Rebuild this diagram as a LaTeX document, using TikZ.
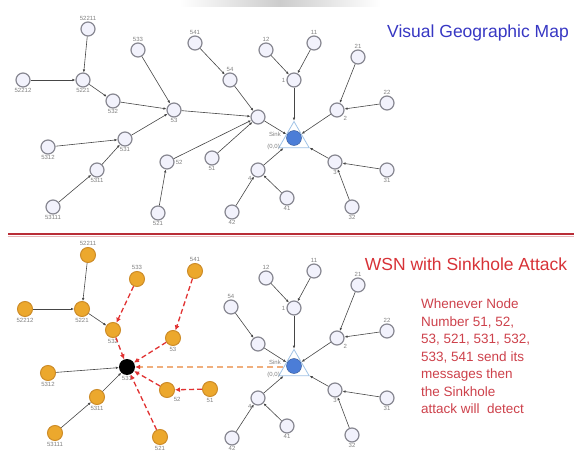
\documentclass[tikz,border=0pt]{standalone}
\usepackage{fontspec}
\setmainfont{Liberation Sans}
\usetikzlibrary{arrows.meta,shapes.geometric}
\definecolor{nodegray}{RGB}{135,135,145}
\definecolor{nodefill}{RGB}{242,242,252}
\definecolor{orfill}{RGB}{236,168,45}
\definecolor{ordraw}{RGB}{205,140,40}
\definecolor{edgegray}{RGB}{70,70,70}
\definecolor{attred}{RGB}{225,50,50}
\definecolor{titleblue}{RGB}{55,55,195}
\definecolor{titlered}{RGB}{215,50,55}
\definecolor{txtred}{RGB}{205,65,75}
\definecolor{divred}{RGB}{185,45,55}
\definecolor{peach}{RGB}{240,175,125}
\definecolor{sinkblue}{RGB}{75,125,215}
\definecolor{trib}{RGB}{160,195,230}
\begin{document}
\begin{tikzpicture}[x=1pt,y=-1pt,
 gnode/.style={circle,draw=nodegray,fill=nodefill,line width=1.2pt,minimum size=14pt,inner sep=0pt},
 onode/.style={circle,draw=ordraw,fill=orfill,line width=1pt,minimum size=15pt,inner sep=0pt},
 hole/.style={circle,fill=black,minimum size=16pt,inner sep=0pt},
 lab/.style={font=\fontsize{6}{6}\selectfont,text=gray,inner sep=1pt},
 conn/.style={draw=edgegray,line width=0.6pt,-{Latex[length=3pt,width=2.6pt]}},
 atk/.style={draw=attred,line width=1.3pt,dash pattern=on 5pt off 3pt,-{Latex[length=5pt,width=5pt]}},
 lure/.style={draw=peach,line width=1.4pt,dash pattern=on 6pt off 4pt,-{Latex[length=5pt,width=5pt,color=attred]}},
 tri/.style={regular polygon,regular polygon sides=3,minimum size=35pt,draw=trib,fill=white,line width=0.8pt,inner sep=0pt},
 core/.style={circle,fill=sinkblue,draw=sinkblue!70!black,line width=0.4pt,minimum size=15pt,inner sep=0pt},
]
\useasboundingbox (0,0) rectangle (574,455);
\shade[left color=white,right color=white,middle color=gray!40] (180,0) rectangle (380,6);

% ---------------- top: visual geographic map
\node[font=\fontsize{17.5}{18}\selectfont,text=titleblue] (t1) at (478,33) {Visual Geographic Map};

\node[gnode,label={[lab]above:52211}] (a52211) at (88,29) {};
\node[gnode,label={[lab]above:533}] (a533) at (138,50) {};
\node[gnode,label={[lab]above:541}] (a541) at (195,43) {};
\node[gnode,label={[lab]below:52212}] (a52212) at (23,80) {};
\node[gnode,label={[lab]below:5221}] (a5221) at (83,80) {};
\node[gnode,label={[lab]below:532}] (a532) at (113,101) {};
\node[gnode,label={[lab]below:53}] (a53) at (174,110) {};
\node[gnode,label={[lab]below:5312}] (a5312) at (48,147) {};
\node[gnode,label={[lab]below:531}] (a531) at (125,139) {};
\node[gnode,label={[lab]below:5311}] (a5311) at (97,170) {};
\node[gnode,label={[lab]below:53111}] (a53111) at (53,207) {};
\node[gnode,label={[lab]right:52}] (a52) at (167,162) {};
\node[gnode,label={[lab]below:521}] (a521) at (158,213) {};
\node[gnode,label={[lab]below:51}] (a51) at (212,158) {};
\node[gnode,label={[lab]above:54}] (a54) at (230,80) {};
\node[gnode] (a5) at (258,117) {};
\node[gnode,label={[lab]above:12}] (a12) at (266,50) {};
\node[gnode,label={[lab]above:11}] (a11) at (314,43) {};
\node[gnode,label={[lab]left:1}] (a1) at (294,80) {};
\node[gnode,label={[lab]above:21}] (a21) at (358,57) {};
\node[gnode,label={[lab]below right:2}] (a2) at (337,110) {};
\node[gnode,label={[lab]above:22}] (a22) at (387,103) {};
\node[gnode,label={[lab]below:31}] (a31) at (387,170) {};
\node[gnode,label={[lab]below:3}] (a3) at (335,162) {};
\node[gnode,label={[lab]below left:4}] (a4) at (258,170) {};
\node[gnode,label={[lab]below:41}] (a41) at (287,198) {};
\node[gnode,label={[lab]below:42}] (a42) at (232,212) {};
\node[gnode,label={[lab]below:32}] (a32) at (352,207) {};
\node[tri] (asink) at (294,139) {};
\node[core] (acore) at (294,138) {};
\node[lab,anchor=east] (asinklab) at (282,134) {Sink};
\node[lab,anchor=east] (asinkxy) at (281,147) {(0,0)};

\draw[conn] (a52211) -- (a5221);
\draw[conn] (a52212) -- (a5221);
\draw[conn] (a5221) -- (a532);
\draw[conn] (a532) -- (a53);
\draw[conn] (a533) -- (a53);
\draw[conn] (a531) -- (a53);
\draw[conn] (a5312) -- (a531);
\draw[conn] (a5311) -- (a531);
\draw[conn] (a53111) -- (a5311);
\draw[conn] (a53) -- (a5);
\draw[conn] (a541) -- (a54);
\draw[conn] (a54) -- (a5);
\draw[conn] (a52) -- (a5);
\draw[conn] (a521) -- (a52);
\draw[conn] (a51) -- (a5);
\draw[conn] (a5) -- (asink);
\draw[conn] (a12) -- (a1);
\draw[conn] (a11) -- (a1);
\draw[conn] (a1) -- (asink);
\draw[conn] (a21) -- (a2);
\draw[conn] (a22) -- (a2);
\draw[conn] (a2) -- (asink);
\draw[conn] (a31) -- (a3);
\draw[conn] (a32) -- (a3);
\draw[conn] (a3) -- (asink);
\draw[conn] (a42) -- (a4);
\draw[conn] (a41) -- (a4);
\draw[conn] (a4) -- (asink);

% ---------------- divider
\draw[divred,line width=2.5pt] (8,234) -- (574,234);
\draw[divred!35,line width=1pt] (8,236.5) -- (574,236.5);

% ---------------- bottom: WSN with sinkhole attack
\node[font=\fontsize{17.5}{18}\selectfont,text=titlered] (t2) at (466,264) {WSN with Sinkhole Attack};
\node[font=\fontsize{13.5}{17.5}\selectfont,text=txtred,align=left,anchor=north west,inner sep=0pt] (note) at (421,299)
 {Whenever Node\\Number 51, 52,\\53, 521, 531, 532,\\533, 541 send its\\messages then\\the Sinkhole\\attack will~ detect};

\node[onode,label={[lab]above:52211}] (b52211) at (88,255) {};
\node[onode,label={[lab]above:533}] (b533) at (137,279) {};
\node[onode,label={[lab]above:541}] (b541) at (195,271) {};
\node[onode,label={[lab]below:52212}] (b52212) at (25,309) {};
\node[onode,label={[lab]below:5221}] (b5221) at (82,309) {};
\node[onode,label={[lab]below:532}] (b532) at (113,330) {};
\node[onode,label={[lab]below:53}] (b53) at (173,338) {};
\node[hole,label={[lab]below:531}] (bhole) at (127,367) {};
\node[onode,label={[lab]below:5312}] (b5312) at (48,373) {};
\node[onode,label={[lab]below:5311}] (b5311) at (97,397) {};
\node[onode,label={[lab]below:53111}] (b53111) at (55,433) {};
\node[onode,label={[lab]below right:52}] (b52) at (167,390) {};
\node[onode,label={[lab]below:521}] (b521) at (160,437) {};
\node[onode,label={[lab]below:51}] (b51) at (210,389) {};
\node[gnode,label={[lab]above:54}] (b54) at (231,307) {};
\node[gnode] (b5) at (258,344) {};
\node[gnode,label={[lab]above:12}] (b12) at (266,278) {};
\node[gnode,label={[lab]above:11}] (b11) at (314,271) {};
\node[gnode,label={[lab]left:1}] (b1) at (294,308) {};
\node[gnode,label={[lab]above:21}] (b21) at (358,285) {};
\node[gnode,label={[lab]below right:2}] (b2) at (337,338) {};
\node[gnode,label={[lab]above:22}] (b22) at (387,331) {};
\node[gnode,label={[lab]below:31}] (b31) at (387,398) {};
\node[gnode,label={[lab]below:3}] (b3) at (335,390) {};
\node[gnode,label={[lab]below left:4}] (b4) at (258,398) {};
\node[gnode,label={[lab]below:41}] (b41) at (287,426) {};
\node[gnode,label={[lab]below:42}] (b42) at (232,438) {};
\node[gnode,label={[lab]below:32}] (b32) at (352,435) {};
\node[tri] (bsink) at (294,367) {};
\node[core] (bcore) at (294,366) {};
\node[lab,anchor=east] (bsinklab) at (282,362) {Sink};
\node[lab,anchor=east] (bsinkxy) at (281,375) {(0,0)};

\draw[conn] (b52211) -- (b5221);
\draw[conn] (b52212) -- (b5221);
\draw[conn] (b5221) -- (b532);
\draw[conn] (b5312) -- (bhole);
\draw[conn] (b5311) -- (bhole);
\draw[conn] (b53111) -- (b5311);
\draw[conn] (b54) -- (b5);
\draw[conn] (b5) -- (bsink);
\draw[conn] (b12) -- (b1);
\draw[conn] (b11) -- (b1);
\draw[conn] (b1) -- (bsink);
\draw[conn] (b21) -- (b2);
\draw[conn] (b22) -- (b2);
\draw[conn] (b2) -- (bsink);
\draw[conn] (b31) -- (b3);
\draw[conn] (b32) -- (b3);
\draw[conn] (b3) -- (bsink);
\draw[conn] (b42) -- (b4);
\draw[conn] (b41) -- (b4);
\draw[conn] (b4) -- (bsink);

\draw[atk] (b533) -- (b532);
\draw[atk] (b541) -- (b53);
\draw[atk] (b532) -- (bhole);
\draw[atk] (b53) -- (bhole);
\draw[atk] (b52) -- (bhole);
\draw[atk] (b521) -- (bhole);
\draw[atk] (b51) -- (b52);
\draw[lure] (bsink) -- (bhole);
\end{tikzpicture}
\end{document}
